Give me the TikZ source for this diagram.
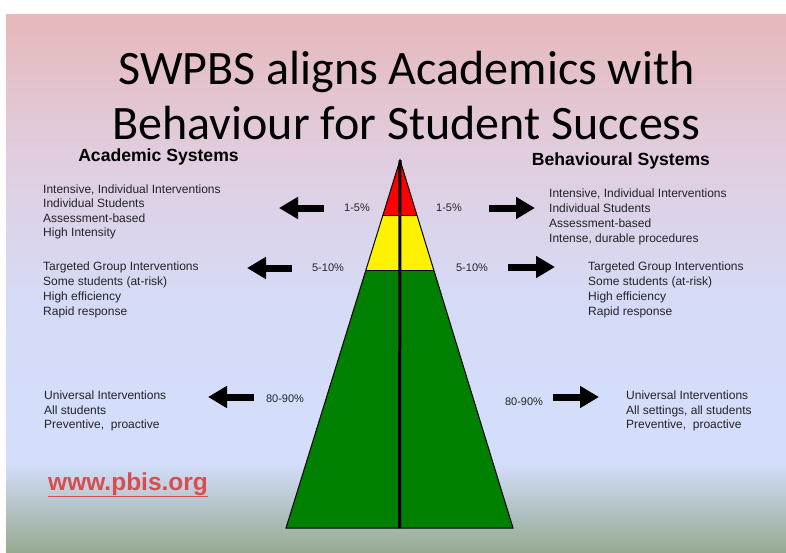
\documentclass[tikz,border=0pt]{standalone}
\usepackage{fontspec}
\setmainfont{Liberation Sans}
\newfontfamily\titlefont{Carlito}
\usetikzlibrary{arrows.meta,calc}
\definecolor{bgA}{RGB}{230,184,186}
\definecolor{bgB}{RGB}{225,205,222}
\definecolor{bgC}{RGB}{213,219,246}
\definecolor{bgD}{RGB}{212,222,252}
\definecolor{bgE}{RGB}{150,170,146}
\definecolor{pgreen}{RGB}{0,128,0}
\definecolor{pbisred}{RGB}{214,78,78}
\definecolor{txt}{RGB}{35,35,40}
\begin{document}
\begin{tikzpicture}[x=1pt,y=-1pt,
  blocktxt/.style={anchor=north west, inner sep=0, align=left, text=txt, font=\fontsize{12}{14.7}\selectfont},
  pct/.style={inner sep=0, text=txt, font=\fontsize{11}{13}\selectfont},
  bigarrow/.style={line width=7pt, -{Triangle[length=19pt,width=21pt]}},
  headtxt/.style={anchor=base, inner sep=0, font=\bfseries\fontsize{17.6}{20}\selectfont},
  titletxt/.style={anchor=base, inner sep=0, font=\titlefont\fontsize{48}{56}\selectfont}]
\useasboundingbox (0,0) rectangle (786,552);
\fill[white] (0,0) rectangle (786,552);
% slide background
\shade[top color=bgA, bottom color=bgB] (6,14) rectangle (786,151);
\shade[top color=bgB, bottom color=bgC] (6,150) rectangle (786,301);
\shade[top color=bgC, bottom color=bgD] (6,300) rectangle (786,463);
\shade[top color=bgD, bottom color=bgE] (6,462) rectangle (786,552);

% title
\node[titletxt] (t1) at (406.5,84) {SWPBS aligns Academics with};
\node[titletxt] (t2) at (406.5,139) {Behaviour for Student Success};

% headings
\node[headtxt] (hA) at (158.5,161) {Academic Systems};
\node[headtxt] (hB) at (621,165.5) {Behavioural Systems};

% pyramid
\coordinate (apex) at (400,160);
\coordinate (bl) at (286,528);
\coordinate (br) at (513,528);
\coordinate (l1) at ($(apex)!0.1495!(bl)$);
\coordinate (r1) at ($(apex)!0.1495!(br)$);
\coordinate (l2) at ($(apex)!0.2989!(bl)$);
\coordinate (r2) at ($(apex)!0.2989!(br)$);
\coordinate (bm) at (399.5,528);
\fill[red] (apex) -- (r1) -- (l1) -- cycle;
\fill[yellow] (l1) -- (r1) -- (r2) -- (l2) -- cycle;
\fill[pgreen] (l2) -- (r2) -- (br) -- (bl) -- cycle;
\draw[line width=0.6pt] (l1) -- (r1) (l2) -- (r2);
\draw[line width=1pt, line join=miter] (apex) -- (br) -- (bl) -- cycle;
\draw[line width=3pt] (apex) -- (bm);

% percentages
\node[pct] (p1l) at (357,208) {1-5\%};
\node[pct] (p1r) at (449,208) {1-5\%};
\node[pct] (p2l) at (328,268) {5-10\%};
\node[pct] (p2r) at (472,268) {5-10\%};
\node[pct] (p3l) at (285,399) {80-90\%};
\node[pct] (p3r) at (524,402) {80-90\%};

% arrows
\coordinate (a1lt) at (324,208); \coordinate (a1lh) at (279,208);
\coordinate (a1rt) at (489,208); \coordinate (a1rh) at (535,208);
\coordinate (a2lt) at (292,268); \coordinate (a2lh) at (247,268);
\coordinate (a2rt) at (508,267); \coordinate (a2rh) at (555,267);
\coordinate (a3lt) at (254,397); \coordinate (a3lh) at (208,397);
\coordinate (a3rt) at (553,397); \coordinate (a3rh) at (599,397);
\draw[bigarrow] (a1lt) -- (a1lh);
\draw[bigarrow] (a1rt) -- (a1rh);
\draw[bigarrow] (a2lt) -- (a2lh);
\draw[bigarrow] (a2rt) -- (a2rh);
\draw[bigarrow] (a3lt) -- (a3lh);
\draw[bigarrow] (a3rt) -- (a3rh);

% text blocks
\node[blocktxt, font=\fontsize{12}{14.3}\selectfont] (tl) at (43,184.5) {Intensive, Individual Interventions\\Individual Students\\Assessment-based\\High Intensity};
\node[blocktxt, font=\fontsize{12}{15}\selectfont] (tr) at (549,188.5) {Intensive, Individual Interventions\\Individual Students\\Assessment-based\\Intense, durable procedures};
\node[blocktxt] (ml) at (43,262) {Targeted Group Interventions\\Some students (at-risk)\\High efficiency\\Rapid response};
\node[blocktxt] (mr) at (588,262) {Targeted Group Interventions\\Some students (at-risk)\\High efficiency\\Rapid response};
\node[blocktxt] (bl2) at (44,390.5) {Universal Interventions\\All students\\Preventive,\ \ proactive};
\node[blocktxt] (br2) at (626,390.5) {Universal Interventions\\All settings, all students\\Preventive,\ \ proactive};

% url
\node[anchor=base west, inner sep=0, text=pbisred, font=\bfseries\fontsize{24.5}{28}\selectfont] (url) at (48,490) {\underline{www.pbis.org}};
\end{tikzpicture}
\end{document}
